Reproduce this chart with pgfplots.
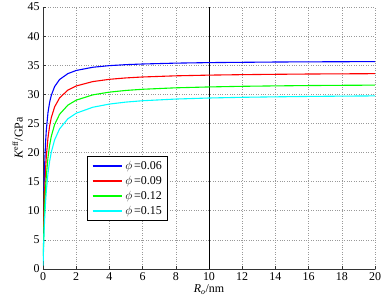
\documentclass[border=0pt]{standalone}
\usepackage{pgfplots}
\pgfplotsset{compat=1.18}
\usepackage{fontspec}
\setmainfont{Liberation Serif}
\definecolor{cblue}{RGB}{0,0,255}
\definecolor{cred}{RGB}{255,0,0}
\definecolor{cgreen}{RGB}{0,255,0}
\definecolor{ccyan}{RGB}{0,255,255}
\begin{document}
\begin{tikzpicture}
\useasboundingbox (-43bp,-36bp) rectangle (345bp,269bp);
\begin{axis}[
  at={(0,0)}, anchor=south west,
  scale only axis,
  width=332bp, height=262bp,
  xmin=0, xmax=20, ymin=0, ymax=45,
  xtick={0,2,...,20}, ytick={0,5,...,45},
  axis x line*=bottom, axis y line*=left,
  tick align=inside,
  major tick length=3pt,
  grid=major,
  major grid style={dotted, gray!80, line width=0.6pt},
  axis line style={line width=0.8pt, black!80},
  tick style={black!80, line width=0.6pt},
  /pgf/number format/assume math mode=true,
  tick label style={font=\fontsize{12}{13}\selectfont},
  label style={font=\fontsize{12}{13}\selectfont},
  xlabel={\textit{R}\textsubscript{\textit{o}}/nm},
  ylabel={\textit{K}\textsuperscript{eff}/GPa},
  xlabel style={yshift=3pt},
  ylabel style={yshift=-2pt},
  legend style={at={(rel axis cs:0.133,0.43)}, anchor=north west,
    draw=black, line width=0.8pt, font=\fontsize{12}{13}\selectfont,
    inner xsep=4pt, inner ysep=2pt, row sep=1.5pt},
  legend cell align=left,
  legend image code/.code={\draw[#1, line width=2pt] (0cm,0cm) -- (1.05cm,0cm);},
]
\addplot[black, line width=0.7pt, forget plot] coordinates {(10,0) (10,45)};
\addplot[cblue, line width=1.1pt] coordinates {
(0.06,13.43)(0.08,15.91)(0.1,17.90)(0.15,21.48)(0.2,23.87)(0.3,26.85)(0.4,28.64)(0.5,29.83)(0.7,31.33)(1,32.55)(1.5,33.56)(2,34.10)(3,34.65)(4,34.93)(5,35.10)(6,35.21)(8,35.36)(10,35.45)(12,35.50)(14,35.55)(16,35.58)(18,35.60)(20,35.62)};
\addlegendentry{$\phi$\,=0.06}
\addplot[cred, line width=1.1pt] coordinates {
(0.04,7.12)(0.06,9.66)(0.08,11.76)(0.1,13.52)(0.15,16.90)(0.2,19.31)(0.3,22.53)(0.4,24.58)(0.5,26.00)(0.7,27.84)(1,29.39)(1.5,30.73)(2,31.44)(3,32.19)(4,32.58)(5,32.82)(6,32.98)(8,33.18)(10,33.30)(12,33.38)(14,33.44)(16,33.49)(18,33.52)(20,33.55)};
\addlegendentry{$\phi$\,=0.09}
\addplot[cgreen, line width=1.1pt] coordinates {
(0.015,2.23)(0.03,4.16)(0.06,7.36)(0.08,9.11)(0.1,10.63)(0.15,13.67)(0.2,15.95)(0.3,19.14)(0.4,21.27)(0.5,22.79)(0.7,24.81)(1,26.58)(1.5,28.15)(2,29.00)(3,29.91)(4,30.38)(5,30.67)(6,30.87)(8,31.12)(10,31.27)(12,31.38)(14,31.45)(16,31.51)(18,31.55)(20,31.58)};
\addlegendentry{$\phi$\,=0.12}
\addplot[ccyan, line width=1.1pt] coordinates {
(0.005,0.59)(0.02,2.23)(0.04,4.15)(0.06,5.83)(0.08,7.30)(0.1,8.60)(0.15,11.29)(0.2,13.38)(0.3,16.42)(0.4,18.52)(0.5,20.07)(0.7,22.18)(1,24.08)(1.5,25.80)(2,26.76)(3,27.78)(4,28.33)(5,28.67)(6,28.90)(8,29.19)(10,29.37)(12,29.49)(14,29.57)(16,29.64)(18,29.69)(20,29.73)};
\addlegendentry{$\phi$\,=0.15}
\end{axis}
\end{tikzpicture}
\end{document}
